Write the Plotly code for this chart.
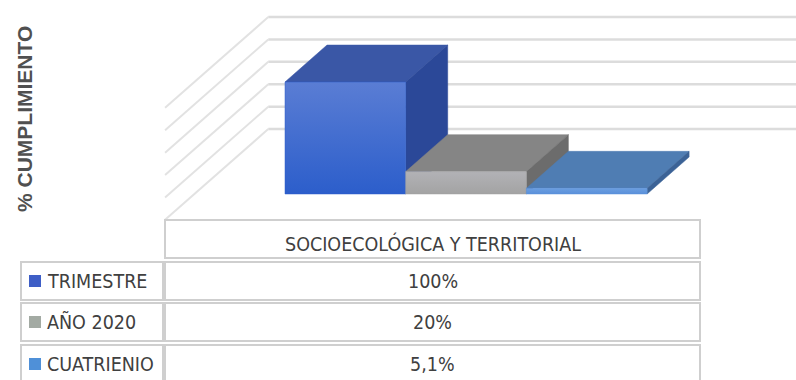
import plotly.graph_objects as go

# ---- data -------------------------------------------------------------
category = "SOCIOECOLÓGICA Y TERRITORIAL"
series_names = ["TRIMESTRE", "AÑO 2020", "CUATRIENIO"]
values = [100, 20, 5.1]
value_labels = ["100%", "20%", "5,1%"]
grid_values = [0, 20, 40, 60, 80, 100]
axis_title = "% CUMPLIMIENTO"

# ---- styling ----------------------------------------------------------
front_colors = [("#2c5ecb", "#5a7dd4"), ("#a3a3a3", "#b2b2b6"), ("#5a90da", "#6a9ee0")]
top_colors = ["#3a57a6", "#858585", "#4f7db3"]
side_colors = ["#2b4898", "#6c6c6c", "#3b6296"]
key_colors = ["#3e5ec6", "#a3aaa3", "#4f90d8"]
TEXT = "#404040"
GRID = "#dcdcdc"
FONT = "Liberation Sans Narrow, DejaVu Sans Condensed, Arial Narrow, Liberation Sans, sans-serif"
FS = 19.5

W, H = 796, 380

# oblique projection: a point (x, v, depth) lands at (x + d*KX, v + d*KY)
KX, KY = 0.348, 33.0
D_FRONT, D_BACK = -0.70, 1.757      # floor front edge / back wall depth
X_LEFT, X_RIGHT = -0.75, 3.75       # floor extent (gap width 150 %)


def proj(x, v, d):
    return x + d * KX, v + d * KY


def poly(points):
    pts = [proj(*p) for p in points]
    xs = [p[0] for p in pts] + [pts[0][0]]
    ys = [p[1] for p in pts] + [pts[0][1]]
    return xs, ys


fig = go.Figure()

# back wall gridlines
for g in grid_values:
    (x0, y0), (x1, y1) = proj(X_LEFT, g, D_BACK), proj(X_RIGHT + 1, g, D_BACK)
    fig.add_trace(go.Scatter(x=[x0, x1], y=[y0, y1], mode="lines",
                             line=dict(color=GRID, width=2.5), hoverinfo="skip"))
# side wall gridlines
for g in grid_values:
    (x0, y0), (x1, y1) = proj(X_LEFT, g, D_FRONT), proj(X_LEFT, g, D_BACK)
    fig.add_trace(go.Scatter(x=[x0, x1], y=[y0, y1], mode="lines",
                             line=dict(color="#e2e2e2", width=2), hoverinfo="skip"))

# bars, drawn left to right so each one hides the side of the previous
for i, v in enumerate(values):
    x0, x1 = i, i + 1
    faces = [
        ([(x0, v, 0), (x1, v, 0), (x1, v, 1), (x0, v, 1)], dict(fillcolor=top_colors[i])),
        ([(x1, 0, 0), (x1, v, 0), (x1, v, 1), (x1, 0, 1)], dict(fillcolor=side_colors[i])),
        ([(x0, 0, 0), (x1, 0, 0), (x1, v, 0), (x0, v, 0)],
         dict(fillgradient=dict(type="vertical",
                                colorscale=[[0, front_colors[i][0]], [1, front_colors[i][1]]]))),
    ]
    for pts, fill in faces:
        xs, ys = poly(pts)
        fig.add_trace(go.Scatter(x=xs, y=ys, mode="lines", fill="toself",
                                 line=dict(width=0.5, color=fill.get("fillcolor", front_colors[i][0])),
                                 hoverinfo="skip", **fill))

# ---- data table (paper coordinates) ------------------------------------
def px(x):
    return x / W


def py(y):
    return 1 - y / H


shapes = []
annotations = []


def cell(x0, y0, x1, y1):
    shapes.append(dict(type="rect", xref="paper", yref="paper",
                       x0=px(x0), x1=px(x1), y0=py(y1), y1=py(y0),
                       line=dict(color="#cfcfcf", width=2), fillcolor="rgba(0,0,0,0)"))


def label(text, x, y, xanchor="center", **kw):
    annotations.append(dict(text=text, x=px(x), y=py(y), xref="paper", yref="paper",
                            xanchor=xanchor, yanchor="middle", showarrow=False, **kw))


LX0, LX1, VX0, VX1 = 21, 163, 165, 700
cell(VX0, 220, VX1, 258)
label(category, (VX0 + VX1) / 2, 244, font=dict(family=FONT, size=FS, color=TEXT))

row_tops = [262, 303, 345]
row_h = 38
for i, name in enumerate(series_names):
    t = row_tops[i]
    cell(LX0, t, LX1, t + row_h)
    cell(VX0, t, VX1, t + row_h)
    cy = t + 19
    shapes.append(dict(type="rect", xref="paper", yref="paper",
                       x0=px(29), x1=px(41), y0=py(cy + 6), y1=py(cy - 6),
                       line=dict(width=0), fillcolor=key_colors[i]))
    label(name, 45, cy, xanchor="left", font=dict(family=FONT, size=FS, color=TEXT))
    label(value_labels[i], (VX0 + VX1) / 2, cy, font=dict(family=FONT, size=FS, color=TEXT))

label("<b>" + axis_title + "</b>", 25, 119, textangle=-90,
      font=dict(family="Liberation Sans, Arial, sans-serif", size=21, color="#505050"))

fig.update_layout(
    width=W, height=H, margin=dict(l=0, r=0, t=0, b=0),
    paper_bgcolor="white", plot_bgcolor="white", showlegend=False,
    xaxis=dict(range=[-285 / 120.7, (W - 285) / 120.7], visible=False, fixedrange=True),
    yaxis=dict(range=[-36 / 1.12, 194 / 1.12], domain=[(H - 230) / H, 1], visible=False, fixedrange=True),
    shapes=shapes, annotations=annotations,
)

fig.write_html("out.html")
